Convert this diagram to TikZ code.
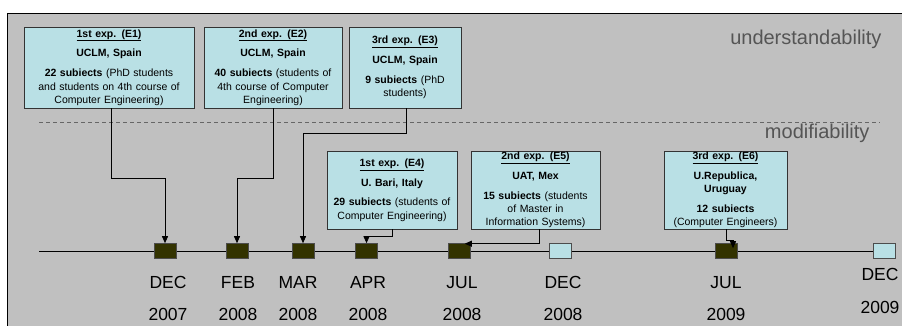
\documentclass[tikz,border=0pt]{standalone}
\usepackage{fontspec}
\setmainfont{Liberation Sans}
\usetikzlibrary{arrows.meta}
\definecolor{slide}{RGB}{192,192,192}
\definecolor{expbox}{RGB}{185,224,229}
\definecolor{darkolive}{RGB}{51,51,0}
\definecolor{zonetext}{RGB}{85,85,85}
\begin{document}
\begin{tikzpicture}[x=1pt,y=-1pt,
    exp/.style={draw=black!80, fill=expbox, line width=0.8pt, inner sep=0pt, align=center,
      font=\fontsize{10.5}{13.3}\selectfont},
    milestone/.style={draw=black!70, fill=darkolive, line width=0.6pt, minimum width=22pt,
      minimum height=15pt, inner sep=0pt},
    pending/.style={milestone, fill=expbox},
    date/.style={anchor=base, font=\fontsize{17.5}{20}\selectfont},
    zone/.style={anchor=base east, text=zonetext, font=\fontsize{20}{24}\selectfont},
    link/.style={-{Triangle[length=7pt,width=6pt]}, line width=0.8pt}]
  \useasboundingbox (0,0) rectangle (902,325);
  \fill[white] (0,0) rectangle (902,325);
  \filldraw[fill=slide, draw=black, line width=1pt] (7,13) rectangle (912,340);
  % zones
  \node[zone] (under) at (885,44) {understandability};
  \node[zone] (modif) at (873,138) {modifiability};
  \draw[black!60, line width=1pt, dash pattern=on 4pt off 3pt] (39,122) -- (880,122);
  % experiments
  \node[exp, minimum width=170pt, minimum height=81pt, text width=166pt] (e1) at (109,67.5)
    {\underline{\textbf{1st exp. (E1)}}\\[6.5pt]\textbf{UCLM, Spain}\\[6.5pt]
     \textbf{22 subiects} (PhD students\\and students on 4th course of\\Computer Engineering)};
  \node[exp, minimum width=138pt, minimum height=81pt, text width=134pt] (e2) at (273,67.5)
    {\underline{\textbf{2nd exp. (E2)}}\\[6.5pt]\textbf{UCLM, Spain}\\[6.5pt]
     \textbf{40 subiects} (students of\\4th course of Computer\\Engineering)};
  \node[exp, minimum width=112pt, minimum height=81pt, text width=108pt] (e3) at (405,67.5)
    {\underline{\textbf{3rd exp. (E3)}}\\[6.5pt]\textbf{UCLM, Spain}\\[6.5pt]
     \textbf{9 subiects} (PhD\\students)};
  \node[exp, minimum width=130pt, minimum height=78pt, text width=126pt] (e4) at (392,190)
    {\underline{\textbf{1st exp. (E4)}}\\[6.5pt]\textbf{U. Bari, Italy}\\[6.5pt]
     \textbf{29 subiects} (students of\\Computer Engineering)};
  \node[exp, minimum width=129pt, minimum height=78pt, text width=125pt] (e5) at (535.5,190)
    {\underline{\textbf{2nd exp. (E5)}}\\[6.5pt]\textbf{UAT, Mex}\\[6.5pt]
     \textbf{15 subiects} (students\\of Master in\\Information Systems)};
  \node[exp, minimum width=123pt, minimum height=78pt, text width=119pt] (e6) at (725.5,190)
    {\underline{\textbf{3rd exp. (E6)}}\\[6.5pt]\textbf{U.Republica,}\\\textbf{Uruguay}\\[6.5pt]
     \textbf{12 subiects}\\(Computer Engineers)};
  % timeline
  \coordinate (axisstart) at (39,251);
  \coordinate (axisend) at (884,251);
  \draw[line width=0.8pt] (axisstart) -- (axisend);
  \node[milestone] (t1) at (165,251) {};
  \node[milestone] (t2) at (237,251) {};
  \node[milestone] (t3) at (303,251) {};
  \node[milestone] (t4) at (366.5,251) {};
  \node[milestone] (t5) at (459.5,251) {};
  \node[pending] (t6) at (560.5,251) {};
  \node[milestone] (t7) at (726,251) {};
  \node[pending] (t8) at (884,251) {};
  % dates
  \foreach \name/\x/\m/\yr in {d1/168/DEC/2007, d2/238/FEB/2008, d3/298/MAR/2008,
      d4/368/APR/2008, d5/462/JUL/2008, d6/563/DEC/2008, d7/726/JUL/2009} {
    \node[date] (\name m) at (\x,288) {\m};
    \node[date] (\name y) at (\x,320) {\yr};
  }
  \node[date] (d8m) at (880,280) {DEC};
  \node[date] (d8y) at (880,313) {2009};
  % links
  \draw[link] ([xshift=2pt]e1.south) -- ++(0,70) -| (t1.north);
  \draw[link] (e2.south) -- ++(0,70) -| (t2.north);
  \draw[link] ([xshift=1pt]e3.south) -- ++(0,25) -| (t3.north);
  \draw[link] (e4.south) -- ++(0,7) -| (t4.north);
  \draw[link] ([xshift=3.5pt]e5.south) |- ([xshift=-6pt,yshift=-0.5pt]t5.north east);
  \draw[link] ([xshift=0.5pt]e6.south) -- ++(0,11) -| ([xshift=7pt,yshift=-5pt]t7.north);
\end{tikzpicture}
\end{document}
